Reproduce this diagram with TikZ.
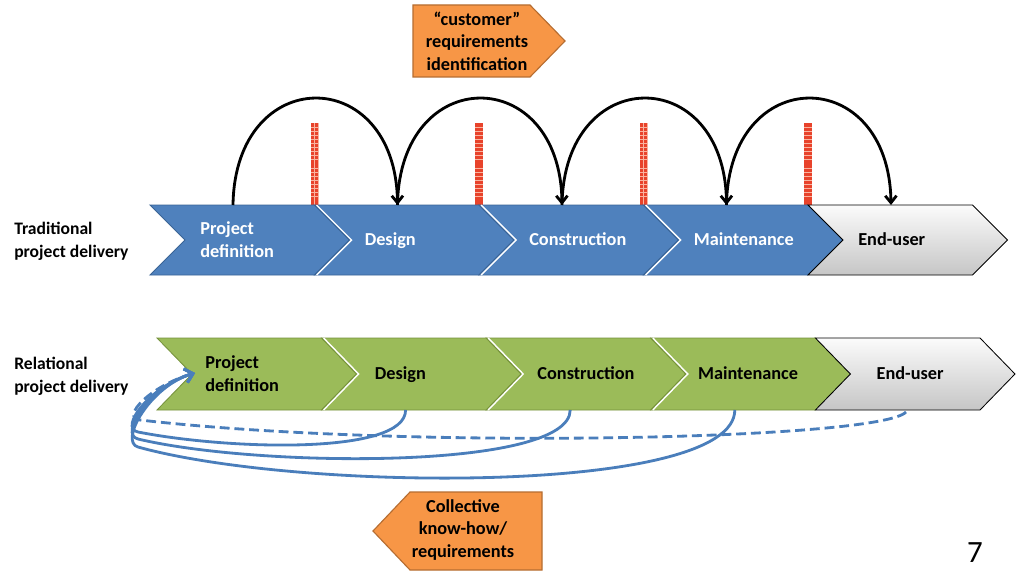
\documentclass[tikz,border=0pt]{standalone}
\usepackage{fontspec}
\setmainfont{Carlito}
\usetikzlibrary{arrows.meta}

\definecolor{chevblue}{HTML}{4F81BD}
\definecolor{chevblueline}{HTML}{3A6496}
\definecolor{chevgreen}{HTML}{9BBB59}
\definecolor{chevgreenline}{HTML}{76923C}
\definecolor{calloutorange}{HTML}{F79646}
\definecolor{calloutline}{HTML}{B66D31}
\definecolor{brickred}{HTML}{E8432B}
\definecolor{mortar}{HTML}{F9B4A0}
\definecolor{loopblue}{HTML}{4A7EBB}

\begin{document}
\begin{tikzpicture}[x=0.025cm,y=-0.025cm,
  stagetext/.style={font=\fontsize{13}{16.4}\selectfont\bfseries,align=left,anchor=west,inner sep=0pt},
  rowtitle/.style={font=\fontsize{12.5}{16.4}\selectfont\bfseries,align=left,anchor=west,inner sep=0pt},
  callouttext/.style={font=\fontsize{13}{16}\selectfont\bfseries,align=center,inner sep=0pt},
  hop/.style={line width=2pt,-{Straight Barb[length=5pt,width=8pt]}},
  feedback/.style={loopblue,line width=2pt,-{Straight Barb[length=5.5pt,width=10pt]}}]
\useasboundingbox (0,0) rectangle (1024,577);
\fill[white] (0,0) rectangle (1024,577);

% brick walls between the traditional stages
\foreach \i in {1,...,4}{
  \pgfmathsetmacro{\xw}{150+164.5*\i}
  \fill[mortar] (\xw-4,123) rectangle (\xw+4,205);
  \foreach \r in {0,...,19}{
    \fill[brickred] (\xw-3.7,123.5+4.1*\r) rectangle (\xw-0.4,126.7+4.1*\r);
    \fill[brickred] (\xw+0.4,123.5+4.1*\r) rectangle (\xw+3.7,126.7+4.1*\r);
  }
}

% traditional project delivery
\foreach \i in {0,...,3}{
  \pgfmathsetmacro{\xl}{150+164.5*\i}
  \filldraw[fill=chevblue,draw=chevblueline,line width=0.6pt]
    (\xl,205) -- ++(164.5,0) -- ++(35,35) -- ++(-35,35) -- ++(-164.5,0) -- ++(35,-35) -- cycle;
  \ifnum\i>0 \draw[white,line width=1pt] (\xl+2,205) -- ++(35,35) -- ++(-35,35);\fi
  \coordinate (tt\i) at (\xl+83,205);
}
\draw[top color=gray!3,bottom color=gray!45,draw=black,line width=0.6pt]
  (808,205) -- ++(164.5,0) -- ++(35,35) -- ++(-35,35) -- ++(-164.5,0) -- ++(35,-35) -- cycle;
\coordinate (tt4) at (891,205);

\foreach \i/\t/\c in {0/{Project\strut\\definition\strut}/white,1/Design\strut/white,2/Construction\strut/white,3/Maintenance\strut/white,4/End-user\strut/black}
  \node[stagetext,text=\c] (t\i) at (150+164.5*\i+50,241) {\t};

\foreach \i [evaluate=\i as \j using int(\i+1)] in {0,...,3}
  \draw[hop] (tt\i) .. controls +(2,-142) and +(-2,-142) .. (tt\j);

% relational project delivery
\foreach \i in {0,...,3}{
  \pgfmathsetmacro{\xl}{157+164.6*\i}
  \filldraw[fill=chevgreen,draw=chevgreenline,line width=0.6pt]
    (\xl,338) -- ++(164.6,0) -- ++(35,36) -- ++(-35,36) -- ++(-164.6,0) -- ++(35,-36) -- cycle;
  \ifnum\i>0 \draw[white,line width=1pt] (\xl+2,338) -- ++(35,36) -- ++(-35,36);\fi
  \coordinate (rb\i) at (\xl+84,410);
}
\draw[top color=gray!3,bottom color=gray!45,draw=black,line width=0.6pt]
  (815.4,338) -- ++(164.6,0) -- ++(35,36) -- ++(-35,36) -- ++(-164.6,0) -- ++(35,-36) -- cycle;
\coordinate (rb4) at (906,412);

\foreach \i/\t/\dx in {0/{Project\strut\\definition\strut}/48,1/Design\strut/53,2/Construction\strut/51,3/Maintenance\strut/47,4/End-user\strut/61}
  \node[stagetext] (r\i) at (157+164.6*\i+\dx,375) {\t};

\node[rowtitle] (trad) at (14,241) {Traditional\strut\\project delivery\strut};
\node[rowtitle] (rel) at (14,376) {Relational\strut\\project delivery\strut};

% feedback into project definition
\coordinate (fbtip) at (195,373);
\draw[feedback] (rb1) .. controls +(0,45) and (230,450) .. (138,432)
  .. controls (118.4,428.2) and (150,386) .. (fbtip);
\draw[feedback] (rb2) .. controls +(0,60) and (260,468) .. (138,439)
  .. controls (118.5,434.4) and (150,386) .. (fbtip);
\draw[feedback] (rb3) .. controls +(0,85) and (300,492) .. (138,447)
  .. controls (118.7,441.6) and (150,386) .. (fbtip);
\draw[feedback,dash pattern=on 7pt off 3.5pt] (rb4) .. controls (880,440) and (400,450) .. (140,420)
  .. controls (120.1,417.7) and (150,386) .. (fbtip);

% callouts
\filldraw[fill=calloutorange,draw=calloutline,line width=0.8pt]
  (413,5) -- (530,5) -- (565,41) -- (530,77) -- (413,77) -- cycle;
\node[callouttext] (cust) at (477,41) {“customer”\\requirements\\identification};
\filldraw[fill=calloutorange,draw=calloutline,line width=0.8pt]
  (373,531) -- (410,492) -- (542,492) -- (542,570) -- (410,570) -- cycle;
\node[callouttext] (know) at (463,530) {Collective\\know-how/\\requirements};

\node[font=\fontsize{22}{26}\selectfont,inner sep=0pt] (pageno) at (975,553) {7};
\end{tikzpicture}
\end{document}
